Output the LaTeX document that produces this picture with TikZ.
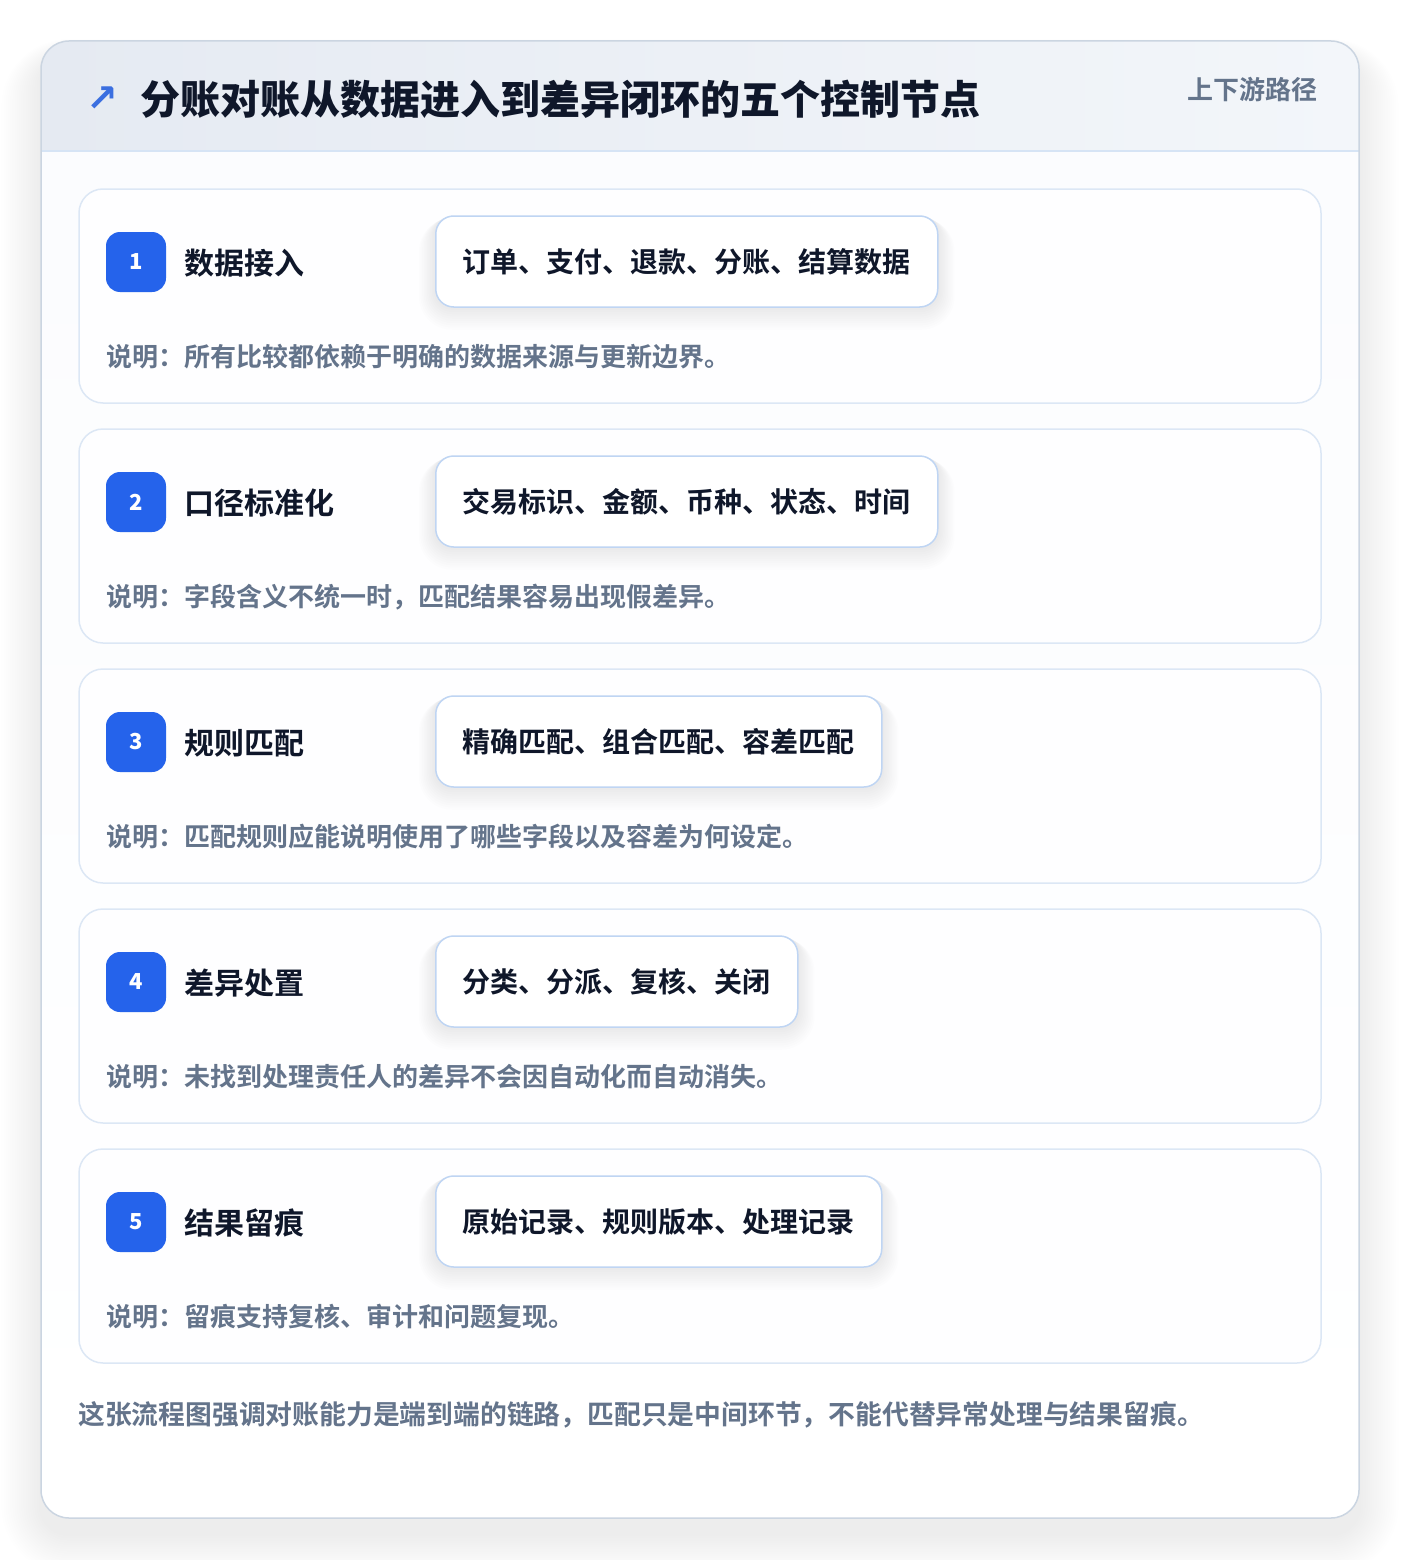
\documentclass[tikz,border=0pt]{standalone}
\usepackage{fontspec}
\setmainfont{Noto Sans CJK SC}[BoldFont=Noto Sans CJK SC Bold]
\newfontfamily\heavyfont{Noto Sans CJK SC Black}
\newfontfamily\symfont{DejaVu Sans}[BoldFont=DejaVu Sans Bold]
\definecolor{ink}{HTML}{0F172A}
\definecolor{muted}{HTML}{64748B}
\definecolor{brand}{HTML}{2563EB}
\definecolor{arrowblue}{HTML}{3B6FE0}
\definecolor{hdrL}{HTML}{E5EAF2}
\definecolor{hdrR}{HTML}{F3F6FA}
\definecolor{bodyfill}{HTML}{FBFCFE}
\definecolor{outerline}{HTML}{CBD5E1}
\definecolor{hdrline}{HTML}{D6E4F5}
\definecolor{cardline}{HTML}{DCE7F5}
\definecolor{cardfill}{HTML}{FEFEFF}
\definecolor{pillline}{HTML}{BFD5F3}
\pgfdeclarelayer{cards}
\pgfdeclarelayer{shadowlayer}
\pgfsetlayers{cards,shadowlayer,main}
\tikzset{
  stepcard/.style={draw=cardline, line width=1.5pt, fill=cardfill, rounded corners=24pt},
  badgebox/.style={fill=brand, rounded corners=14pt, minimum width=60pt, minimum height=60pt, inner sep=0pt,
    text=white, font=\heavyfont\fontsize{22}{26}\selectfont},
  steptitle/.style={anchor=west, inner sep=0pt, text=ink, font=\bfseries\fontsize{30}{36}\selectfont},
  pillbox/.style={anchor=west, draw=pillline, line width=1.5pt, fill=white, rounded corners=18pt,
    inner xsep=27pt, inner ysep=0pt, minimum height=91pt, text=ink, font=\bfseries\fontsize{28}{34}\selectfont},
  notetext/.style={anchor=west, inner sep=0pt, text=muted, font=\bfseries\fontsize{26}{30}\selectfont},
}
\begin{document}
\begin{tikzpicture}[x=1pt,y=-1pt]
\useasboundingbox (0,0) rectangle (1400,1560);
\begin{pgfonlayer}{cards}
\fill[white] (0,0) rectangle (1400,1560);
% outer card soft shadow
\foreach \i in {1,...,18} {
  \pgfmathsetmacro{\rr}{28+2.2*\i}
  \fill[black, opacity=0.0045, rounded corners=\rr pt]
    (41-2.2*\i, 41-1*\i+16) rectangle (1359+2.2*\i, 1518+2.2*\i+16);
}
% outer card
\fill[bodyfill, rounded corners=28pt] (41,41) rectangle (1359,1518);
\begin{scope}
  \clip[rounded corners=28pt] (41,41) rectangle (1359,1518);
  \shade[left color=hdrL, right color=hdrR] (41,41) rectangle (1359,151);
  \shade[top color=bodyfill, bottom color=white] (41,152) rectangle (1359,1518);
\end{scope}
\draw[hdrline, line width=1.5pt] (41,151) -- (1359,151);
\draw[outerline, line width=1.5pt, rounded corners=28pt] (41,41) rectangle (1359,1518);
\end{pgfonlayer}
% header texts
\node[inner sep=0pt, text=arrowblue, font=\symfont\bfseries\fontsize{38}{40}\selectfont] (icon) at (102,99) {↗};
\node[anchor=west, inner sep=0pt, text=ink, font=\heavyfont\fontsize{40}{48}\selectfont] (title) at (140,99)
  {分账对账从数据进入到差异闭环的五个控制节点};
\node[anchor=east, inner sep=0pt, text=muted, font=\bfseries\fontsize{26}{30}\selectfont] (tag) at (1318,90)
  {上下游路径};
% steps
\foreach \n/\ttl/\pill/\note [count=\k from 0] in {
  1/{数据接入}/{订单、支付、退款、分账、结算数据}/{说明：所有比较都依赖于明确的数据来源与更新边界。},
  2/{口径标准化}/{交易标识、金额、币种、状态、时间}/{说明：字段含义不统一时，匹配结果容易出现假差异。},
  3/{规则匹配}/{精确匹配、组合匹配、容差匹配}/{说明：匹配规则应能说明使用了哪些字段以及容差为何设定。},
  4/{差异处置}/{分类、分派、复核、关闭}/{说明：未找到处理责任人的差异不会因自动化而自动消失。},
  5/{结果留痕}/{原始记录、规则版本、处理记录}/{说明：留痕支持复核、审计和问题复现。}} {
  \pgfmathsetmacro{\top}{189+240*\k}
  \begin{pgfonlayer}{cards}
    \draw[stepcard] (79,\top) rectangle (1321,\top+214);
  \end{pgfonlayer}
  \node[badgebox] (badge\n) at (136,\top+73) {\n};
  \node[steptitle] (title\n) at (184,\top+74) {\ttl};
  \node[pillbox] (pill\n) at (435,\top+72.5) {\pill};
  \node[notetext] (note\n) at (106,\top+168) {\note};
  \begin{pgfonlayer}{shadowlayer}
    \foreach \j in {1,...,10} {
      \fill[black, opacity=0.006, rounded corners=18pt+1.5pt*\j]
        ([xshift=-1.6pt*\j, yshift=-0.3pt*\j]pill\n.north west) rectangle
        ([xshift=1.6pt*\j, yshift=-2.2pt*\j]pill\n.south east);
    }
  \end{pgfonlayer}
}
% footer
\node[anchor=west, inner sep=0pt, text=muted, font=\bfseries\fontsize{26.8}{32}\selectfont] (footer) at (78,1415)
  {这张流程图强调对账能力是端到端的链路，匹配只是中间环节，不能代替异常处理与结果留痕。};
\end{tikzpicture}
\end{document}
